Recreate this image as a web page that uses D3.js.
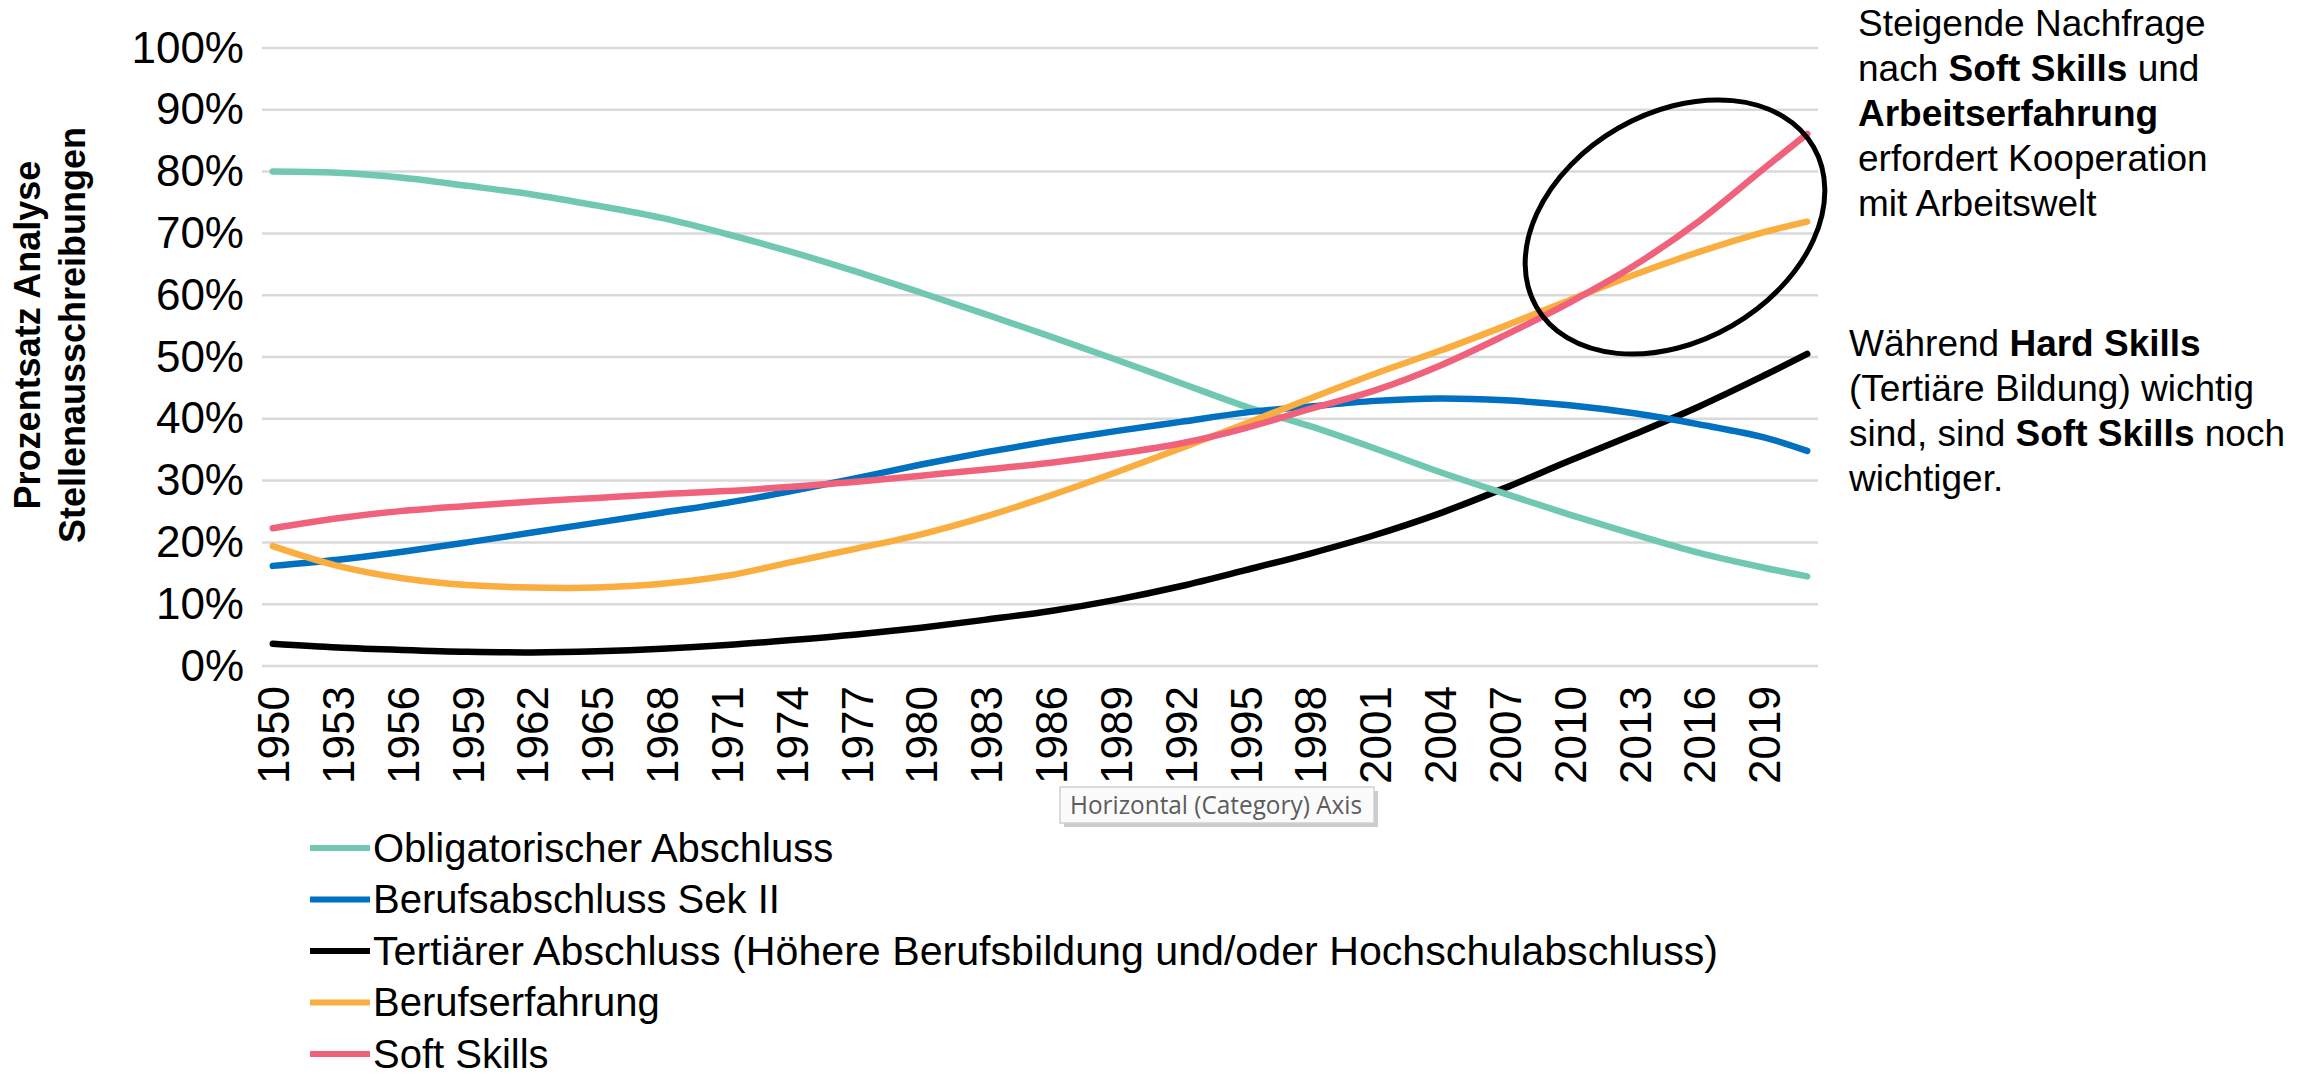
<!DOCTYPE html>
<html>
<head>
<meta charset="utf-8">
<script src="https://cdn.jsdelivr.net/npm/d3@7"></script>
<style>
  body { margin: 0; background: #fff; }
  svg { display: block; font-family: "Liberation Sans", Arial, sans-serif; }
</style>
</head>
<body>
<div id="chart-area"></div>
<script>
const W = 2316, H = 1078
const PLOT = { LEFT: 262, RIGHT: 1818, TOP: 48, BOTTOM: 666 }

const sampleYears = [1950, 1953, 1956, 1959, 1962, 1965, 1968, 1971, 1974, 1977, 1980, 1983,
  1986, 1989, 1992, 1995, 1998, 2001, 2004, 2007, 2010, 2013, 2016, 2019, 2021]
const obligatorisch = [80.0, 79.8, 79.0, 77.7, 76.3, 74.5, 72.5, 69.9, 67.0, 63.8, 60.4, 56.9,
  53.3, 49.6, 45.8, 42.0, 38.8, 35.2, 31.4, 27.9, 24.5, 21.3, 18.3, 15.9, 14.5]
const berufSek2 = [16.2, 17.2, 18.5, 20.0, 21.6, 23.2, 24.8, 26.4, 28.3, 30.4, 32.6, 34.6,
  36.4, 38.0, 39.5, 41.0, 42.0, 42.9, 43.3, 43.0, 42.2, 40.9, 39.1, 37.0, 34.8]
const tertiaer = [3.6, 3.0, 2.6, 2.3, 2.2, 2.4, 2.8, 3.4, 4.2, 5.1, 6.2, 7.5,
  8.9, 10.7, 12.9, 15.5, 18.2, 21.2, 24.7, 28.8, 33.2, 37.5, 42.0, 47.0, 50.5]
const erfahrung = [19.4, 16.2, 14.2, 13.1, 12.7, 12.7, 13.3, 14.6, 16.8, 19.0, 21.3, 24.2,
  27.6, 31.3, 35.2, 39.2, 43.3, 47.3, 51.0, 55.0, 59.2, 63.3, 67.0, 70.2, 71.9]
const softSkills = [22.3, 23.9, 25.1, 25.9, 26.6, 27.2, 27.8, 28.3, 29.0, 29.8, 30.8, 31.8,
  32.9, 34.3, 36.0, 38.5, 41.6, 44.6, 48.6, 53.5, 58.8, 64.8, 72.0, 80.5, 86.1]

const tickYears = [1950, 1953, 1956, 1959, 1962, 1965, 1968, 1971, 1974, 1977, 1980, 1983,
  1986, 1989, 1992, 1995, 1998, 2001, 2004, 2007, 2010, 2013, 2016, 2019]
const yTicks = [0, 10, 20, 30, 40, 50, 60, 70, 80, 90, 100]

const seriesNames = ["Obligatorischer Abschluss", "Berufsabschluss Sek II",
  "Tertiärer Abschluss (Höhere Berufsbildung und/oder Hochschulabschluss)",
  "Berufserfahrung", "Soft Skills"]
const seriesColors = ["#70C7B2", "#0070C0", "#000000", "#FBAE40", "#F0627B"]
const seriesValues = [obligatorisch, berufSek2, tertiaer, erfahrung, softSkills]
// drawing order: black under the others
const drawOrder = [2, 0, 1, 3, 4]

const svg = d3.select("#chart-area").append("svg")
  .attr("width", W)
  .attr("height", H)

// scales
const x = d3.scaleLinear().domain([1949.5, 2021.5]).range([PLOT.LEFT, PLOT.RIGHT])
const y = d3.scaleLinear().domain([0, 100]).range([PLOT.BOTTOM, PLOT.TOP])

// gridlines
svg.append("g").selectAll("line")
  .data(yTicks)
  .join("line")
  .attr("x1", PLOT.LEFT)
  .attr("x2", PLOT.RIGHT)
  .attr("y1", d => y(d))
  .attr("y2", d => y(d))
  .attr("stroke", "#D9D9D9")
  .attr("stroke-width", 2.5)

// y axis labels
const yAxis = svg.append("g")
  .attr("transform", `translate(${PLOT.LEFT}, 0)`)
  .call(d3.axisLeft(y).tickValues(yTicks).tickSize(0).tickPadding(18).tickFormat(d => d + "%"))
yAxis.select(".domain").remove()
yAxis.selectAll("text")
  .attr("font-size", "44px")
  .attr("font-family", "Liberation Sans, Arial, sans-serif")
  .attr("fill", "#000")

// x axis labels (rotated)
const xAxis = svg.append("g")
  .attr("transform", `translate(0, ${PLOT.BOTTOM})`)
  .call(d3.axisBottom(x).tickValues(tickYears).tickSize(0).tickFormat(d => String(d)))
xAxis.select(".domain").remove()
xAxis.selectAll("text")
  .attr("font-size", "44px")
  .attr("font-family", "Liberation Sans, Arial, sans-serif")
  .attr("fill", "#000")
  .attr("text-anchor", "end")
  .attr("dy", "0.36em")
  .attr("y", 0)
  .attr("transform", "translate(0, 20) rotate(-90)")

// lines
const line = d3.line()
  .x((d, i) => x(sampleYears[i]))
  .y(d => y(d))
  .curve(d3.curveCatmullRom.alpha(0.5))

svg.append("g").selectAll("path")
  .data(drawOrder)
  .join("path")
  .attr("fill", "none")
  .attr("stroke", i => seriesColors[i])
  .attr("stroke-width", 6.5)
  .attr("stroke-linecap", "round")
  .attr("stroke-linejoin", "round")
  .attr("d", i => line(seriesValues[i]))

// y axis title
const yTitle = svg.append("text")
  .attr("transform", "translate(0, 335) rotate(-90)")
  .attr("text-anchor", "middle")
  .attr("font-size", "36px")
  .attr("font-weight", "bold")
yTitle.append("tspan").attr("x", 0).attr("y", 40).text("Prozentsatz Analyse")
yTitle.append("tspan").attr("x", 0).attr("y", 85).text("Stellenausschreibungen")

// legend
const legend = svg.append("g")
  .attr("transform", "translate(310, 848)")
const rows = legend.selectAll("g")
  .data(seriesNames)
  .join("g")
  .attr("transform", (d, i) => `translate(0, ${i * 51.5})`)
rows.append("line")
  .attr("x1", 0).attr("x2", 60)
  .attr("stroke", (d, i) => seriesColors[i])
  .attr("stroke-width", 6)
rows.append("text")
  .attr("x", 63)
  .attr("dy", "0.34em")
  .attr("font-size", "40px")
  .attr("textLength", (d, i) => i === 2 ? 1345 : null)
  .attr("lengthAdjust", "spacingAndGlyphs")
  .text(d => d)

// tooltip box left on the screenshot
const tip = svg.append("g").attr("transform", "translate(1060, 787)")
tip.append("rect")
  .attr("x", 4).attr("y", 4).attr("width", 314).attr("height", 36)
  .attr("fill", "#9a9a9a").attr("opacity", 0.5)
tip.append("rect")
  .attr("width", 314).attr("height", 36)
  .attr("fill", "#fbfbfb").attr("stroke", "#d0d0d0").attr("stroke-width", 1.5)
tip.append("text")
  .attr("x", 10).attr("y", 27)
  .attr("font-family", "Open Sans, sans-serif")
  .attr("font-size", "25px")
  .attr("fill", "#5c5c5c")
  .attr("textLength", 292)
  .attr("lengthAdjust", "spacingAndGlyphs")
  .text("Horizontal (Category) Axis")

// ellipse around soft skills / berufserfahrung
svg.append("ellipse")
  .attr("transform", "translate(1675, 227) rotate(-30)")
  .attr("rx", 160)
  .attr("ry", 114)
  .attr("fill", "none")
  .attr("stroke", "#000")
  .attr("stroke-width", 5)

// annotations
function annotate(xPos, y0, lines) {
  const t = svg.append("text")
    .attr("font-size", "37px")
    .attr("fill", "#000")
  lines.forEach((parts, i) => {
    parts.forEach((p, j) => {
      const s = t.append("tspan")
        .text(p[0])
        .attr("font-weight", p[1] ? "bold" : "normal")
      if (j === 0) s.attr("x", xPos).attr("y", y0 + i * 45)
    })
  })
}

annotate(1858, 36, [
  [["Steigende Nachfrage", false]],
  [["nach ", false], ["Soft Skills", true], [" und", false]],
  [["Arbeitserfahrung", true]],
  [["erfordert Kooperation", false]],
  [["mit Arbeitswelt", false]]
])

annotate(1849, 356, [
  [["Während ", false], ["Hard Skills", true]],
  [["(Tertiäre Bildung) wichtig", false]],
  [["sind, sind ", false], ["Soft Skills", true], [" noch", false]],
  [["wichtiger.", false]]
])
</script>
</body>
</html>
